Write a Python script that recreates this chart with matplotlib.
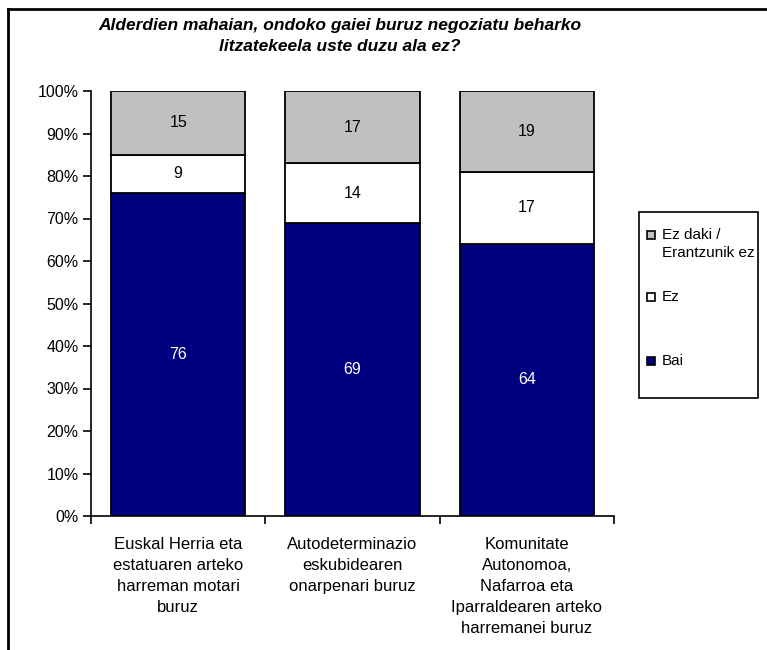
import numpy as np
import matplotlib.pyplot as plt
from matplotlib.lines import Line2D
from matplotlib.patches import Rectangle

plt.rcParams['font.family'] = ['Liberation Sans', 'DejaVu Sans']

# galdera bakoitzeko gaiak
gaiak = ['Euskal Herria eta\nestatuaren arteko\nharreman motari\nburuz',
         'Autodeterminazio\neskubidearen\nonarpenari buruz',
         'Komunitate\nAutonomoa,\nNafarroa eta\nIparraldearen arteko\nharremanei buruz']
bai = [76, 69, 64]
ez = [9, 14, 17]
ez_daki = [15, 17, 19]

kolore_bai = '#000080'
kolore_ez = 'white'
kolore_ezdaki = '#c0c0c0'

W, H = 767, 650
fig = plt.figure(figsize=(W / 100, H / 100), dpi=100)
ax = fig.add_axes([91 / W, (H - 516) / H, (614 - 91) / W, (516 - 91) / H])

x = np.arange(len(gaiak))
kw = dict(width=0.77, edgecolor='black', linewidth=1.3)
ax.bar(x, bai, color=kolore_bai, **kw)
ax.bar(x, ez, bottom=bai, color=kolore_ez, **kw)
ax.bar(x, ez_daki, bottom=np.add(bai, ez), color=kolore_ezdaki, **kw)

for i in range(len(gaiak)):
    ax.text(x[i], bai[i] / 2, str(bai[i]), ha='center', va='center', color='white', fontsize=11.5)
    ax.text(x[i], bai[i] + ez[i] / 2, str(ez[i]), ha='center', va='center', color='black', fontsize=11.5)
    ax.text(x[i], bai[i] + ez[i] + ez_daki[i] / 2, str(ez_daki[i]), ha='center', va='center',
            color='black', fontsize=11.5)

ax.set_xlim(-0.5, len(gaiak) - 0.5)
ax.set_ylim(0, 100)
ax.set_yticks(range(0, 101, 10))
ax.set_yticklabels([f'{v}%' for v in range(0, 101, 10)], fontsize=11.5)
ax.set_xticks(np.arange(-0.5, len(gaiak), 1.0))
ax.set_xticklabels([])
ax.set_xticks(x, minor=True)
ax.set_xticklabels(gaiak, minor=True, fontsize=12, linespacing=1.5, va='top')
ax.tick_params(axis='x', which='minor', length=0, pad=15)
ax.tick_params(axis='both', which='major', length=6, width=1.2, direction='out', color='black')
ax.tick_params(axis='y', pad=3)
for s in ['top', 'right']:
    ax.spines[s].set_visible(False)
for s in ['left', 'bottom']:
    ax.spines[s].set_linewidth(1.2)

fig.text(340 / W, 1 - 36 / H,
         'Alderdien mahaian, ondoko gaiei buruz negoziatu beharko\nlitzatekeela uste duzu ala ez?',
         ha='center', va='center', fontsize=12.5, fontweight='bold', fontstyle='italic',
         linespacing=1.45)


# legenda, pixel koordenatuetan
def px(xp, yp):
    return xp / W, 1 - yp / H


lx, ly = px(639, 398)
fig.add_artist(Rectangle((lx, ly), (758 - 639) / W, (398 - 212) / H, transform=fig.transFigure,
                         facecolor='white', edgecolor='black', linewidth=1.2))
sarrerak = [(kolore_ezdaki, 'Ez daki /\nErantzunik ez', 235),
            (kolore_ez, 'Ez', 297),
            (kolore_bai, 'Bai', 361)]
for kol, testua, yc in sarrerak:
    mx, my = px(647, yc + 4)
    fig.add_artist(Rectangle((mx, my), 8 / W, 8 / H, transform=fig.transFigure,
                             facecolor=kol, edgecolor='black', linewidth=1.2))
    tx, ty = px(662, yc - 7)
    fig.text(tx, ty, testua, ha='left', va='top', fontsize=11, linespacing=1.35)

# kanpoko markoa
fig.add_artist(Line2D([8 / W, 1], [1 - 9 / H, 1 - 9 / H], color='black', linewidth=2))
fig.add_artist(Line2D([8 / W, 8 / W], [0, 1 - 9 / H], color='black', linewidth=2))

fig.savefig('out.png', dpi=100)
